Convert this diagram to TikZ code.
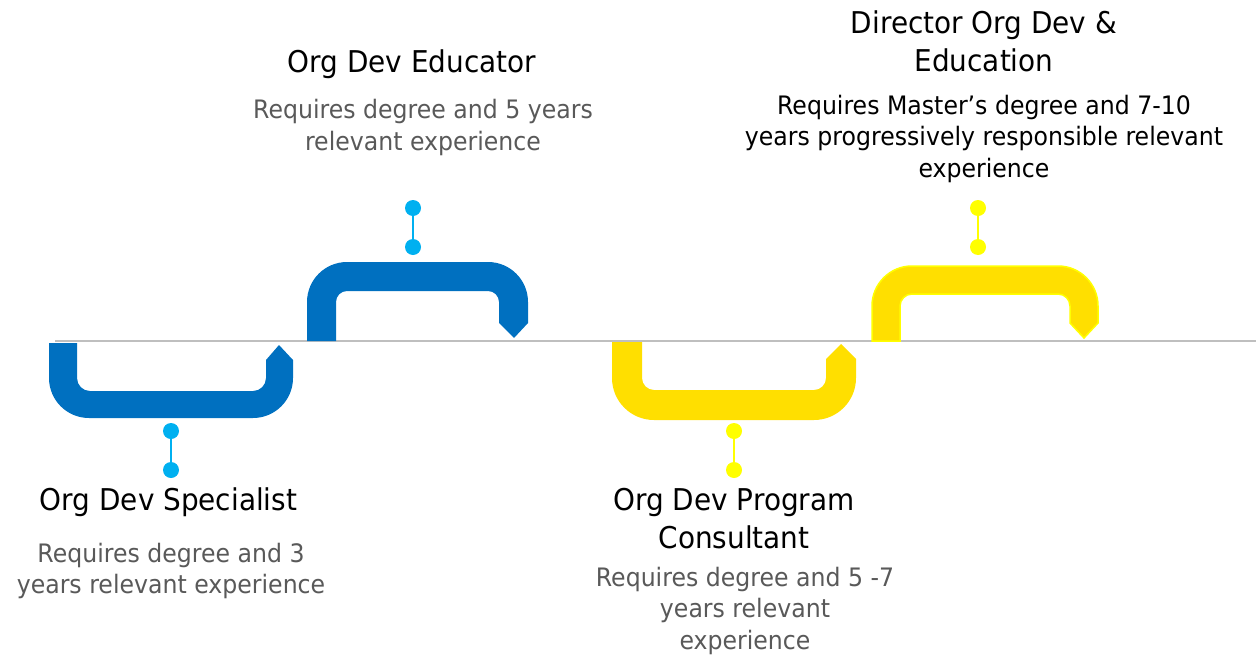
\documentclass[tikz,border=0pt]{standalone}
\usepackage{fontspec}
\setmainfont{DejaVu Sans}[FakeStretch=0.93]
\definecolor{bblue}{HTML}{0070C0}
\definecolor{pblue}{HTML}{00B0F0}
\definecolor{byel}{HTML}{FFDF00}
\definecolor{pyel}{HTML}{FFFF00}
\definecolor{tgray}{HTML}{BFBFBF}
\definecolor{bodygray}{HTML}{595959}
\newcommand{\tfont}{\fontsize{30}{38}\selectfont}
\newcommand{\bfontx}{\fontsize{25.4}{31.5}\selectfont}
\tikzset{
  titletext/.style={font=\tfont, align=center, inner sep=0pt, anchor=north, text=black},
  bodytext/.style={font=\bfontx, align=center, inner sep=0pt, anchor=north, text=bodygray},
  pindot/.style={circle, inner sep=0pt, minimum size=16pt, fill=#1},
  pinline/.style={draw=#1, line width=2.5pt},
  tline/.style={draw=tgray, line width=2.5pt}
}
\begin{document}
\begin{tikzpicture}[x=1pt,y=-1pt]
\useasboundingbox (0,0) rectangle (1256,656);
% timeline
\coordinate (tl0) at (55,341);
\coordinate (tl1) at (1256,341);
\draw[tline] (tl0) -- (tl1);
% bracket 1 (blue, down)
\fill[bblue] (49,343) -- (49,378) arc[start angle=180,end angle=90,radius=40] -- (253,418) arc[start angle=90,end angle=0,radius=40] -- (293,360) -- (279,345) -- (266,360) -- (266,378) arc[start angle=0,end angle=90,radius=13] -- (90,391) arc[start angle=90,end angle=180,radius=13] -- (77,343) -- cycle;
% bracket 2 (blue, up)
\fill[bblue] (307,341) -- (307,302) arc[start angle=180,end angle=270,radius=40] -- (488,262) arc[start angle=270,end angle=360,radius=40] -- (528,323) -- (514,338) -- (499,323) -- (499,302) arc[start angle=0,end angle=-90,radius=11] -- (347,291) arc[start angle=270,end angle=180,radius=11] -- (336,341) -- cycle;
% bracket 3 (yellow, down)
\fill[byel] (612,342) -- (612,378) arc[start angle=180,end angle=90,radius=42] -- (814,420) arc[start angle=90,end angle=0,radius=42] -- (856,359) -- (841,344) -- (826,359) -- (826,378) arc[start angle=0,end angle=90,radius=12] -- (654,390) arc[start angle=90,end angle=180,radius=12] -- (642,342) -- cycle;
% bracket 4 (yellow, up)
\filldraw[fill=byel, draw=pyel, line width=1.5pt] (872,341) -- (872,306) arc[start angle=180,end angle=270,radius=40] -- (1058,266) arc[start angle=270,end angle=360,radius=40] -- (1098,323) -- (1084,338) -- (1070,323) -- (1070,306) arc[start angle=0,end angle=-90,radius=12] -- (912,294) arc[start angle=270,end angle=180,radius=12] -- (900,341) -- cycle;
% pins
\node[pindot=pblue] (p1a) at (171,431) {};
\node[pindot=pblue] (p1b) at (171,470) {};
\draw[pinline=pblue] (p1a) -- (p1b);
\node[pindot=pblue] (p2a) at (413,208) {};
\node[pindot=pblue] (p2b) at (413,247) {};
\draw[pinline=pblue] (p2a) -- (p2b);
\node[pindot=pyel] (p3a) at (734,431) {};
\node[pindot=pyel] (p3b) at (734,470) {};
\draw[pinline=pyel] (p3a) -- (p3b);
\node[pindot=pyel] (p4a) at (978,208) {};
\node[pindot=pyel] (p4b) at (978,247) {};
\draw[pinline=pyel] (p4a) -- (p4b);
% texts
\node[titletext] (t1) at (168.5,483.4) {\strut Org Dev Specialist};
\node[bodytext] (b1) at (171,540) {\strut Requires degree and 3\\\strut years relevant experience};
\node[titletext] (t2) at (412,45.4) {\strut Org Dev Educator};
\node[bodytext] (b2) at (423,96.5) {\strut Requires degree and 5 years\\\strut relevant experience};
\node[titletext] (t3) at (734,483.4) {\strut Org Dev Program\\\strut Consultant};
\node[bodytext] (b3) at (745,564) {\strut Requires degree and 5 -7\\\strut years relevant\\\strut experience};
\node[titletext] (t4) at (984,6.4) {\strut Director Org Dev \&\\\strut Education};
\node[bodytext, text=black] (b4) at (984,92) {\strut Requires Master’s degree and 7-10\\\strut years progressively responsible relevant\\\strut experience};
\end{tikzpicture}
\end{document}
